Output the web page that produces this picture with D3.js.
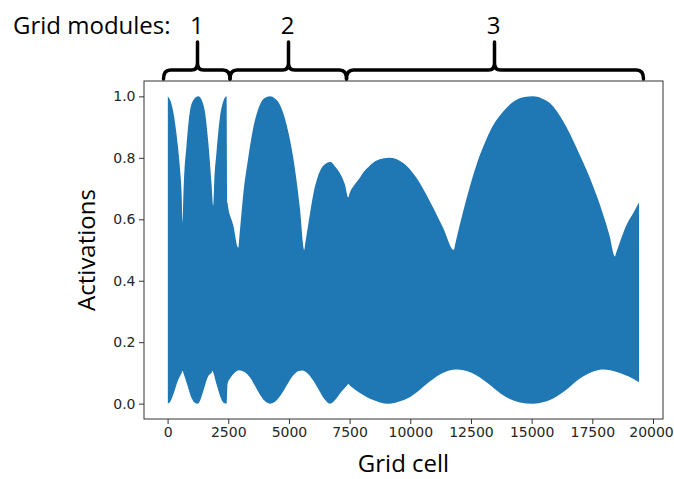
<!DOCTYPE html>
<html>
<head>
<meta charset="utf-8">
<script src="https://cdn.jsdelivr.net/npm/d3@7"></script>
<style>
  html, body { margin: 0; padding: 0; background: #fff; }
  svg { display: block; }
</style>
</head>
<body>
<div id="chart"></div>
<script>
// ---------- data ----------
const upperCell = [0,120,231,370,507,580,617,660,783,919,1080,1265,1420,1537,1673,1813,1879,1920,2019,2155,2300,2431,2470,2703,2910,2960,3116,3322,3528,3803,4000,4215,4420,4627,4903,5178,5451,5630,5680,5794,6000,6275,6500,6715,6900,7100,7306,7442,7500,7700,7923,8060,8300,8611,9131,9708,10260,10808,11356,11797,11850,12180,12450,12732,13000,13280,13828,14380,14700,15064,15400,15752,16300,16852,17400,17948,18200,18430,18480,18912,19200,19431];
const upperAct  = [1.0,0.985,0.951,0.875,0.768,0.68,0.59,0.70,0.843,0.951,0.99,1.0,0.985,0.951,0.854,0.713,0.645,0.72,0.821,0.930,0.985,1.0,0.653,0.582,0.507,0.545,0.680,0.80,0.897,0.973,0.995,1.0,0.993,0.973,0.908,0.80,0.637,0.501,0.526,0.582,0.680,0.756,0.78,0.786,0.772,0.750,0.713,0.671,0.685,0.712,0.735,0.752,0.772,0.791,0.80,0.783,0.734,0.658,0.572,0.501,0.519,0.626,0.705,0.778,0.835,0.886,0.951,0.989,0.998,1.0,0.994,0.978,0.919,0.832,0.734,0.615,0.55,0.479,0.490,0.582,0.622,0.656];

const lowerCell = [0,100,231,437,580,617,655,808,988,1120,1250,1350,1468,1673,1815,1854,1893,2019,2225,2330,2431,2470,2600,2750,2950,3150,3400,3600,3800,4000,4215,4450,4700,4950,5200,5400,5550,5750,6000,6250,6450,6700,6900,7150,7400,7442,7490,7650,7923,8200,8472,8750,9100,9571,10000,10395,10800,11219,11600,11900,12200,12500,12867,13300,13691,14100,14515,15064,15500,15752,16200,16576,16900,17264,17600,17948,18250,18636,19000,19431];
const lowerAct  = [0.0,0.005,0.029,0.078,0.100,0.107,0.099,0.062,0.018,0.003,0.0,0.012,0.040,0.089,0.101,0.107,0.099,0.062,0.013,0.002,0.0,0.064,0.085,0.100,0.109,0.104,0.085,0.058,0.030,0.009,0.0,0.008,0.032,0.065,0.094,0.106,0.108,0.100,0.075,0.042,0.016,0.0,0.012,0.038,0.060,0.064,0.061,0.050,0.035,0.022,0.012,0.004,0.0,0.008,0.022,0.045,0.072,0.095,0.108,0.111,0.109,0.101,0.085,0.060,0.035,0.015,0.004,0.0,0.005,0.012,0.032,0.055,0.077,0.095,0.106,0.111,0.109,0.100,0.088,0.070];

const xTicks = [0,2500,5000,7500,10000,12500,15000,17500,20000];
const yTicks = [0.0,0.2,0.4,0.6,0.8,1.0];

const modules = [
  {label: "1", start: 163.5, tip: 197.5, end: 230},
  {label: "2", start: 230, tip: 288.5, end: 346.5},
  {label: "3", start: 346.5, tip: 494.5, end: 643.5}
];

// ---------- layout ----------
const W = 674, H = 479;
const L = 144, R = 663, T = 81, B = 419;

const svg = d3.select("#chart").append("svg")
  .attr("width", W).attr("height", H);

const x = d3.scaleLinear().domain([-972, 20412]).range([L, R]);
const y = d3.scaleLinear().domain([-0.05, 1.05]).range([B, T]);

const upper = upperCell.map((c, i) => ({c, v: upperAct[i]}));
const lower = lowerCell.map((c, i) => ({c, v: lowerAct[i]}));

// clip: region above the lower envelope
svg.append("clipPath").attr("id", "aboveLower")
  .append("path")
  .attr("d", d3.area()
    .x(d => x(d.c))
    .y0(T - 2)
    .y1(d => y(d.v))
    .curve(d3.curveMonotoneX)(lower));

// filled band: below the upper envelope, clipped above the lower envelope
svg.append("path")
  .attr("clip-path", "url(#aboveLower)")
  .attr("fill", "#1f77b4")
  .attr("d", d3.area()
    .x(d => x(d.c))
    .y0(B + 2)
    .y1(d => y(d.v))
    .curve(d3.curveMonotoneX)(upper));

// axes
const xAxis = d3.axisBottom(x).tickValues(xTicks).tickFormat(d3.format("d")).tickSize(5).tickPadding(3.5);
const yAxis = d3.axisLeft(y).tickValues(yTicks).tickFormat(d3.format(".1f")).tickSize(5).tickPadding(3.5);

const gx = svg.append("g").attr("transform", `translate(0,${B})`).call(xAxis);
const gy = svg.append("g").attr("transform", `translate(${L},0)`).call(yAxis);
[gx, gy].forEach(g => {
  g.select(".domain").remove();
  g.selectAll(".tick line").attr("stroke", "#333").attr("stroke-width", 1);
  g.selectAll(".tick text")
    .attr("fill", "#262626")
    .style("font-family", "'DejaVu Sans', sans-serif")
    .style("font-size", "14px");
});
// keep the last x label inside the window
gx.selectAll(".tick text").filter(d => d === 20000).attr("dx", "-2");

// frame
svg.append("rect")
  .attr("x", L).attr("y", T)
  .attr("width", R - L).attr("height", B - T)
  .attr("fill", "none").attr("stroke", "#333").attr("stroke-width", 1);

// axis labels
const labelFont = "'Open Sans', 'DejaVu Sans', sans-serif";
svg.append("text")
  .attr("x", (L + R) / 2).attr("y", 472)
  .attr("text-anchor", "middle")
  .style("font-family", labelFont).style("font-size", "24px")
  .attr("fill", "#000")
  .text("Grid cell");

svg.append("text")
  .attr("transform", `translate(95,${(T + B) / 2}) rotate(-90)`)
  .attr("text-anchor", "middle")
  .style("font-family", labelFont).style("font-size", "24px")
  .attr("fill", "#000")
  .text("Activations");

// module braces
const braceY = 70, endY = 79, tipY = 42;
modules.forEach(m => {
  const p = d3.path();
  p.moveTo(m.start, endY);
  p.quadraticCurveTo(m.start, braceY, m.start + 7, braceY);
  p.lineTo(m.tip - 6, braceY);
  p.quadraticCurveTo(m.tip, braceY, m.tip, braceY - 7);
  p.lineTo(m.tip, tipY);
  p.moveTo(m.tip, braceY - 7);
  p.quadraticCurveTo(m.tip, braceY, m.tip + 6, braceY);
  p.lineTo(m.end - 7, braceY);
  p.quadraticCurveTo(m.end, braceY, m.end, endY);
  svg.append("path")
    .attr("d", p.toString())
    .attr("fill", "none")
    .attr("stroke", "#000")
    .attr("stroke-width", 3.5)
    .attr("stroke-linecap", "round")
    .attr("stroke-linejoin", "round");
});

svg.append("text")
  .attr("x", 13).attr("y", 34)
  .style("font-family", labelFont).style("font-size", "24px")
  .attr("fill", "#000")
  .text("Grid modules:");

modules.forEach(m => {
  svg.append("text")
    .attr("x", m.label === "1" ? 190 : m.tip - 1).attr("y", 34)
    .attr("text-anchor", m.label === "1" ? "start" : "middle")
    .style("font-family", labelFont).style("font-size", "24px")
    .attr("fill", "#000")
    .text(m.label);
});
</script>
</body>
</html>
